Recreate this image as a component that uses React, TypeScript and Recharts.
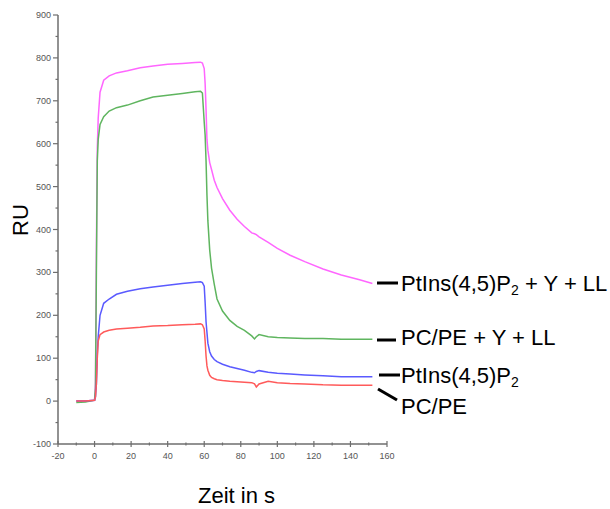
import React from 'react';
import { LineChart, Line, XAxis, YAxis } from 'recharts';

// Zeitpunkte (s), gemeinsam für alle Kurven
const zeit = [
  -10, -5, 0, 0.5, 1, 1.5, 2, 3, 5, 8, 12, 18, 25, 32, 40, 48, 55, 58, 59, 60,
  60.5, 61, 61.5, 62, 63, 64, 65.5, 67, 70, 74, 78, 82, 86, 87.5, 88.5, 90, 95,
  100, 107, 115, 125, 135, 145, 152,
];

// PtIns(4,5)P2 + Y + LL
const pipYLL = [
  0, 0, 2, 40, 350, 590, 660, 720, 748, 758, 765, 770, 777, 781, 785, 787, 789, 790, 788, 775,
  740, 680, 610, 585, 556, 540, 515, 498, 472, 445, 424, 407, 392, 390, 388, 383, 370,
  356, 340, 325, 308, 294, 283, 274,
];

// PC/PE + Y + LL
const pcpeYLL = [
  -3, -2, 2, 30, 300, 560, 610, 645, 663, 676, 684, 690, 700, 709, 713, 717, 721, 722, 718, 650,
  620, 560, 480, 420, 352, 310, 272, 238, 210, 188, 174, 165, 152, 145, 150, 155, 150,
  148, 147, 146, 146, 144, 144, 144,
];

// PtIns(4,5)P2
const pip = [
  0, 0, 2, 10, 40, 110, 150, 200, 228, 238, 249, 256, 262, 266, 270, 274, 277, 278, 276, 268,
  230, 185, 160, 135, 115, 105, 97, 92, 86, 80, 76, 72, 67, 66, 69, 71, 67,
  65, 63, 61, 59, 57, 57, 57,
];

// PC/PE
const pcpe = [
  0, 0, 2, 10, 40, 100, 140, 155, 161, 165, 168, 170, 172, 175, 176, 178, 179, 180, 178, 168,
  140, 105, 82, 72, 60, 55, 52, 50, 48, 46, 45, 44, 43, 40, 33, 40, 46,
  43, 41, 40, 38, 37, 37, 37,
];

const xTicks = [-20, -10, 0, 10, 20, 30, 40, 50, 60, 70, 80, 90, 100, 110, 120, 130, 140, 150, 160];
const yTicks = [-100, -50, 0, 50, 100, 150, 200, 250, 300, 350, 400, 450, 500, 550, 600, 650, 700, 750, 800, 850, 900];

const rows = zeit.map((t, i) => ({
  t,
  pipYLL: pipYLL[i],
  pcpeYLL: pcpeYLL[i],
  pip: pip[i],
  pcpe: pcpe[i],
}));

const font = 'Liberation Sans, Arial, sans-serif';
const axisGrey = '#6e6e6e';

const XTick = (props: any) => {
  const { x, y, payload } = props;
  const major = payload.value % 20 === 0;
  const h = major ? 3 : 1.5;
  return (
    <g>
      <line x1={x} x2={x} y1={y - h} y2={y + h} stroke={axisGrey} strokeWidth={1.2} />
      {major && (
        <text x={x} y={y + 15} textAnchor="middle" fontSize={9} fill="#555" fontFamily={font}>
          {payload.value}
        </text>
      )}
    </g>
  );
};

const YTick = (props: any) => {
  const { x, y, payload } = props;
  const major = payload.value % 100 === 0;
  return (
    <g>
      <line x1={x - (major ? 5 : 2.5)} x2={x} y1={y} y2={y} stroke={axisGrey} strokeWidth={1.2} />
      {major && (
        <text x={x - 7} y={y + 3} textAnchor="end" fontSize={9} fill="#555" fontFamily={font}>
          {payload.value}
        </text>
      )}
    </g>
  );
};

export default function App() {
  return (
    <div style={{ position: 'absolute', left: 0, top: 0, width: 610, height: 509, background: '#fff' }}>
      <LineChart width={610} height={509} data={rows} margin={{ top: 15, right: 223, bottom: 0, left: 0 }}>
        <XAxis
          type="number"
          dataKey="t"
          domain={[-20, 160]}
          ticks={xTicks}
          interval={0}
          height={65}
          tickSize={0}
          tickMargin={0}
          tickLine={false}
          tick={<XTick />}
          axisLine={{ stroke: axisGrey, strokeWidth: 1.5 }}
        />
        <YAxis
          type="number"
          domain={[-100, 900]}
          ticks={yTicks}
          interval={0}
          width={58}
          tickSize={0}
          tickMargin={0}
          tickLine={false}
          tick={<YTick />}
          axisLine={{ stroke: axisGrey, strokeWidth: 1.5 }}
        />
        <Line dataKey="pipYLL" stroke="#ff66ff" strokeWidth={1.5} dot={false} type="linear" isAnimationActive={false} />
        <Line dataKey="pcpeYLL" stroke="#5fb55f" strokeWidth={1.5} dot={false} type="linear" isAnimationActive={false} />
        <Line dataKey="pip" stroke="#5a5aff" strokeWidth={1.5} dot={false} type="linear" isAnimationActive={false} />
        <Line dataKey="pcpe" stroke="#ff5a5a" strokeWidth={1.5} dot={false} type="linear" isAnimationActive={false} />
      </LineChart>
      <svg
        width={610}
        height={509}
        style={{ position: 'absolute', left: 0, top: 0, pointerEvents: 'none' }}
        fontFamily={font}
      >
        <text transform="translate(28,220) rotate(-90)" textAnchor="middle" fontSize={22} fill="#000">
          RU
        </text>
        <text x={198} y={503} fontSize={22} fill="#000">
          Zeit in s
        </text>

        <line x1={377} x2={398} y1={283} y2={283} stroke="#000" strokeWidth={3} />
        <text x={401} y={291} fontSize={22} fill="#000">
          PtIns(4,5)P<tspan fontSize={14} dy={4}>2</tspan>
          <tspan dy={-4}> + Y + LL</tspan>
        </text>

        <line x1={377} x2={396} y1={340} y2={340} stroke="#000" strokeWidth={3} />
        <text x={401} y={345} fontSize={22} fill="#000">
          PC/PE + Y + LL
        </text>

        <line x1={379} x2={400} y1={375} y2={375} stroke="#000" strokeWidth={3} />
        <text x={401} y={383} fontSize={22} fill="#000">
          PtIns(4,5)P<tspan fontSize={14} dy={4}>2</tspan>
        </text>

        <line x1={378} x2={397} y1={389} y2={400} stroke="#000" strokeWidth={3} />
        <text x={401} y={414} fontSize={22} fill="#000">
          PC/PE
        </text>
      </svg>
    </div>
  );
}
